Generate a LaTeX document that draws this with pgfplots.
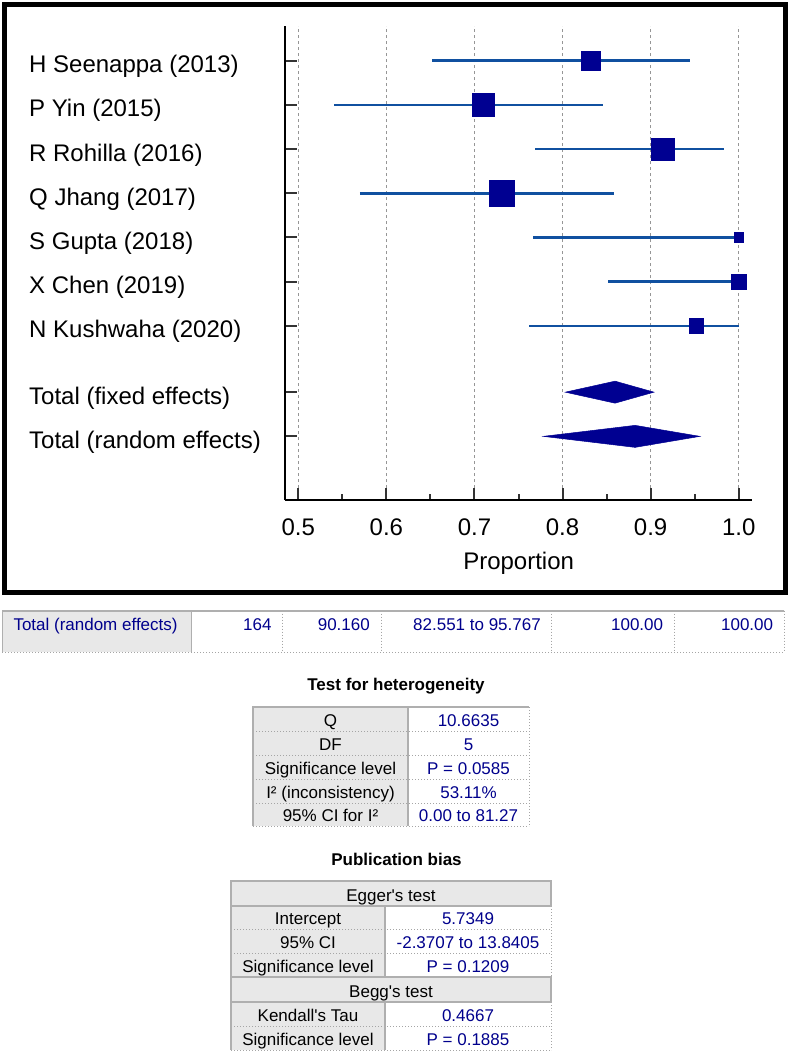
\documentclass[border=0pt]{standalone}
\usepackage{fontspec}
\setmainfont{Liberation Sans}
\usepackage{pgfplots}
\pgfplotsset{compat=1.18}
\definecolor{sqblue}{RGB}{0,0,145}
\definecolor{ciblue}{RGB}{16,80,160}
\definecolor{txtblue}{RGB}{0,0,140}
\definecolor{cellgray}{RGB}{232,232,232}
\definecolor{bordgray}{RGB}{175,175,175}
\definecolor{dotgray}{RGB}{165,165,165}
\definecolor{gridgray}{RGB}{150,150,150}
\newcommand{\fbig}{\fontsize{24}{28}\selectfont}
\newcommand{\fsmall}{\fontsize{17}{20}\selectfont}
\begin{document}
\begin{tikzpicture}
\path[use as bounding box] (0pt,0pt) rectangle (790pt,-1052pt);
\begin{axis}[
  at={(285pt,-500pt)}, anchor=south west,
  width=467.3pt, height=474pt, scale only axis,
  xmin=0.4849, xmax=1.0154, ymin=-10.94, ymax=-0.215,
  axis x line*=bottom, axis y line*=left,
  axis line style={line width=2.6pt, black},
  xtick={0.5,0.6,0.7,0.8,0.9,1.0},
  xticklabels={0.5,0.6,0.7,0.8,0.9,1.0},
  minor xtick={0.55,0.65,0.75,0.85,0.95},
  ytick={-1,-2,-3,-4,-5,-6,-7,-8.5,-9.5},
  yticklabels={H Seenappa (2013), P Yin (2015), R Rohilla (2016), Q Jhang (2017), S Gupta (2018), X Chen (2019), N Kushwaha (2020), Total (fixed effects), Total (random effects)},
  tick align=inside, major tick length=12pt, minor tick length=6pt,
  tick style={line width=2pt, black!80},
  xmajorgrids, major x grid style={gridgray, line width=0.8pt, dash pattern=on 3pt off 3pt},
  xticklabel style={font=\fbig, inner sep=0pt, anchor=base, yshift=-35pt},
  yticklabel style={font=\fbig, inner sep=0pt, anchor=base west, xshift=-256pt, yshift=-12pt},
  xlabel={Proportion},
  xlabel style={font=\fbig, inner sep=0pt, anchor=base, at={(axis description cs:0.5,0)}, yshift=-69pt},
  clip=false,
]
% confidence intervals
\addplot[ciblue, line width=2.6pt] coordinates {(0.652,-1) (0.945,-1)};
\addplot[ciblue, line width=2.6pt] coordinates {(0.541,-2) (0.846,-2)};
\addplot[ciblue, line width=2.6pt] coordinates {(0.769,-3) (0.983,-3)};
\addplot[ciblue, line width=2.6pt] coordinates {(0.570,-4) (0.858,-4)};
\addplot[ciblue, line width=2.6pt] coordinates {(0.767,-5) (1.000,-5)};
\addplot[ciblue, line width=2.6pt] coordinates {(0.852,-6) (1.000,-6)};
\addplot[ciblue, line width=2.6pt] coordinates {(0.762,-7) (1.000,-7)};
% point estimates
\addplot[only marks, mark=square*, mark size=9.7pt, mark options={fill=sqblue, draw=sqblue, line width=0.6pt}] coordinates {(0.832,-1)};
\addplot[only marks, mark=square*, mark size=11.2pt, mark options={fill=sqblue, draw=sqblue, line width=0.6pt}] coordinates {(0.710,-2)};
\addplot[only marks, mark=square*, mark size=11.2pt, mark options={fill=sqblue, draw=sqblue, line width=0.6pt}] coordinates {(0.914,-3)};
\addplot[only marks, mark=square*, mark size=12.7pt, mark options={fill=sqblue, draw=sqblue, line width=0.6pt}] coordinates {(0.731,-4)};
\addplot[only marks, mark=square*, mark size=4.7pt, mark options={fill=sqblue, draw=sqblue, line width=0.6pt}] coordinates {(1.000,-5)};
\addplot[only marks, mark=square*, mark size=7.2pt, mark options={fill=sqblue, draw=sqblue, line width=0.6pt}] coordinates {(1.000,-6)};
\addplot[only marks, mark=square*, mark size=7.2pt, mark options={fill=sqblue, draw=sqblue, line width=0.6pt}] coordinates {(0.952,-7)};
% pooled estimates
\addplot[fill=sqblue, draw=sqblue, line width=0.5pt] coordinates {(0.8031,-8.5) (0.8596,-8.251) (0.9038,-8.5) (0.8596,-8.749)} --cycle;
\addplot[fill=sqblue, draw=sqblue, line width=0.5pt] coordinates {(0.7782,-9.5) (0.8823,-9.251) (0.9560,-9.5) (0.8823,-9.749)} --cycle;
\end{axis}
\begin{scope}[x=1pt, y=-1pt]
% frame
\draw[line width=5pt] (4.5,4.5) rectangle (785.5,592.5);
% summary row
\fill[cellgray] (2.3,610.7) rectangle (191.7,652.3);
\draw[dotgray, line width=1pt, dotted] (2.3,652.3) -- (784.3,652.3);
\foreach \xx in {282.7,381,551.7,674.3,784.3} \draw[dotgray, line width=1pt, dotted] (\xx,610.7) -- (\xx,652.3);
\draw[bordgray, line width=1.6pt] (2.3,652.3) -- (2.3,610.7) -- (784.3,610.7);
\draw[bordgray, line width=1.2pt] (191.7,610.7) -- (191.7,652.3);
\begin{scope}[every node/.style={font=\fsmall, text=txtblue, inner sep=0pt}]
\node[anchor=base west] at (13.3,630.7) {Total (random effects)};
\node[anchor=base east] at (271.7,630.7) {164};
\node[anchor=base east] at (370,630.7) {90.160};
\node[anchor=base east] at (541,630.7) {82.551 to 95.767};
\node[anchor=base east] at (663.3,630.7) {100.00};
\node[anchor=base east] at (773.3,630.7) {100.00};
\end{scope}
% heterogeneity
\node[font=\fsmall\bfseries, anchor=base, inner sep=0pt] at (396,690.5) {Test for heterogeneity};
\fill[cellgray] (253,707) rectangle (408,826);
\foreach \yy in {731,755,779,803,826} \draw[dotgray, line width=1pt, dotted] (253,\yy) -- (529,\yy);
\draw[dotgray, line width=1pt, dotted] (529,707) -- (529,826);
\draw[bordgray, line width=1.6pt] (253,826) -- (253,707) -- (529,707);
\draw[bordgray, line width=1.2pt] (408,707) -- (408,826);
\begin{scope}[every node/.style={font=\fsmall, inner sep=0pt, anchor=base}]
\node at (330.5,726.7) {Q};
\node at (330.5,750.7) {DF};
\node at (330.5,774.7) {Significance level};
\node at (330.5,798.7) {I² (inconsistency)};
\node at (330.5,821.7) {95\% CI for I²};
\node[text=txtblue] at (468.5,726.7) {10.6635};
\node[text=txtblue] at (468.5,750.7) {5};
\node[text=txtblue] at (468.5,774.7) {P = 0.0585};
\node[text=txtblue] at (468.5,798.7) {53.11\%};
\node[text=txtblue] at (468.5,821.7) {0.00 to 81.27};
\end{scope}
% publication bias
\node[font=\fsmall\bfseries, anchor=base, inner sep=0pt] at (396.5,865) {Publication bias};
\fill[cellgray] (231,881) rectangle (551,906);
\fill[cellgray] (231,906) rectangle (385,977);
\fill[cellgray] (231,977) rectangle (551,1002);
\fill[cellgray] (231,1002) rectangle (385,1050);
\foreach \yy in {929,953,1026,1050} \draw[dotgray, line width=1pt, dotted] (231,\yy) -- (551,\yy);
\draw[dotgray, line width=1pt, dotted] (551,906) -- (551,977);
\draw[dotgray, line width=1pt, dotted] (551,1002) -- (551,1050);
\draw[bordgray, line width=1.6pt] (231,881) rectangle (551,906);
\draw[bordgray, line width=1.6pt] (231,977) rectangle (551,1002);
\draw[bordgray, line width=1.6pt] (231,906) -- (231,977);
\draw[bordgray, line width=1.6pt] (231,1002) -- (231,1050);
\draw[bordgray, line width=1.2pt] (385,906) -- (385,977);
\draw[bordgray, line width=1.2pt] (385,1002) -- (385,1050);
\begin{scope}[every node/.style={font=\fsmall, inner sep=0pt, anchor=base}]
\node at (391,901.5) {Egger\textquotesingle s test};
\node at (308,924.5) {Intercept};
\node at (308,948.5) {95\% CI};
\node at (308,972.5) {Significance level};
\node at (391,997.5) {Begg\textquotesingle s test};
\node at (308,1021.5) {Kendall\textquotesingle s Tau};
\node at (308,1045.5) {Significance level};
\node[text=txtblue] at (468,924.5) {5.7349};
\node[text=txtblue] at (468,948.5) {-2.3707 to 13.8405};
\node[text=txtblue] at (468,972.5) {P = 0.1209};
\node[text=txtblue] at (468,1021.5) {0.4667};
\node[text=txtblue] at (468,1045.5) {P = 0.1885};
\end{scope}
\end{scope}
\end{tikzpicture}
\end{document}
